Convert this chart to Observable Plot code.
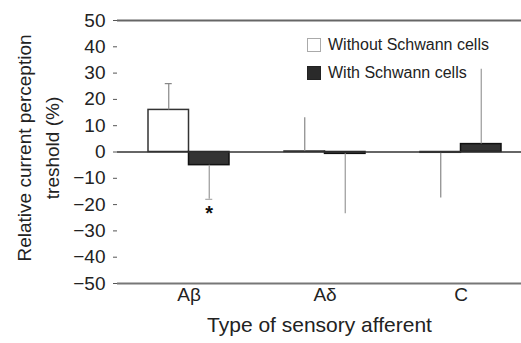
<!DOCTYPE html>
<html>
<head>
<meta charset="utf-8">
<script src="https://cdn.jsdelivr.net/npm/d3@7"></script>
<script src="https://cdn.jsdelivr.net/npm/@observablehq/plot@0.6"></script>
<style>
  html, body { margin: 0; padding: 0; background: #fff; }
  #wrap { position: relative; width: 521px; height: 343px; font-family: "Liberation Sans", Arial, Helvetica, sans-serif; }
  #legend { position: absolute; left: 307px; top: 31px; font-size: 16px; color: #222; }
  .item { display: flex; align-items: center; height: 28px; }
  .sw { width: 14px; height: 14px; margin-right: 7px; box-sizing: border-box; }
</style>
</head>
<body>
<div id="wrap"><div id="legend"></div></div>
<script>
// ---- data ----
const types = ["Aβ", "Aδ", "C"];
const series = ["Without Schwann cells", "With Schwann cells"];
const withoutMean = [16, 0.2, -0.3];
const withoutErrEnd = [26, 13, -17.5];
const withMean = [-5, -0.7, 3];
const withErrEnd = [-18, -23.5, 31.5];
const withoutCap = [true, false, false];
const withCap = [true, false, false];
const significant = [true, false, false];
const yTicks = [-50, -40, -30, -20, -10, 0, 10, 20, 30, 40, 50];
const xTitle = "Type of sensory afferent";
const yTitle = "Relative current perception\ntreshold (%)";

const rowsWithout = types.map((t, i) => ({type: t, value: withoutMean[i], err: withoutErrEnd[i], cap: withoutCap[i]}));
const rowsWith = types.map((t, i) => ({type: t, value: withMean[i], err: withErrEnd[i], cap: withCap[i], sig: significant[i]}));

const font = '"Liberation Sans", Arial, Helvetica, sans-serif';
const base = {
  width: 521, height: 343,
  marginLeft: 117, marginRight: 0, marginTop: 20, marginBottom: 60,
  x: {domain: types, paddingInner: 0.407, paddingOuter: 0.183, align: 0.61},
  y: {domain: [-50, 50]},
  style: {fontFamily: font, background: "transparent", color: "#222"}
};
// measure bandwidth from the scale
const probe = Plot.plot({...base, marks: [Plot.barY(rowsWithout, {x: "type", y: "value"})]});
const bw = probe.scale("x").bandwidth;
const half = bw / 2;
const capInset = (half - 7) / 2;

const chart = Plot.plot({
  ...base,
  marks: [
    Plot.ruleY([50], {stroke: "#666", strokeWidth: 2}),
    Plot.ruleY([-50], {stroke: "#777", strokeWidth: 2}),
    // bars
    Plot.barY(rowsWithout, {x: "type", y: "value", fill: "white", stroke: "#333", strokeWidth: 1.5, insetRight: half}),
    Plot.barY(rowsWith, {x: "type", y: "value", fill: "#333", stroke: "#111", strokeWidth: 1.5, insetLeft: half}),
    // error bars
    Plot.ruleX(rowsWithout, {x: "type", y1: "value", y2: "err", dx: -half / 2, stroke: "#888", strokeWidth: 1.2}),
    Plot.ruleX(rowsWith, {x: "type", y1: "value", y2: "err", dx: half / 2, stroke: "#999", strokeWidth: 1.2}),
    Plot.tickY(rowsWithout.filter(d => d.cap), {x: "type", y: "err", dx: -half / 2, insetLeft: capInset + half / 2, insetRight: capInset + half / 2, stroke: "#888", strokeWidth: 1.2}),
    Plot.tickY(rowsWith.filter(d => d.cap), {x: "type", y: "err", dx: half / 2, insetLeft: capInset + half / 2, insetRight: capInset + half / 2, stroke: "#aaa", strokeWidth: 1.2}),
    Plot.text(rowsWith.filter(d => d.sig), {x: "type", y: "err", text: () => "*", dx: half / 2, dy: 14, fontSize: 20, fontWeight: "bold", fill: "#111"}),
    Plot.ruleY([0], {stroke: "#333", strokeWidth: 1.6}),
    // axes
    Plot.axisY({ticks: yTicks, tickSize: 4, tickPadding: 8, fontSize: 19, label: null, stroke: "#555", line: true, tickFormat: d => d < 0 ? "−" + Math.abs(d) : String(d)}),
    Plot.axisX({tickSize: 0, tickPadding: 4, fontSize: 19, label: null}),
    Plot.text([xTitle], {frameAnchor: "bottom", dy: 42, fontSize: 21, lineAnchor: "middle", fill: "#222"}),
    Plot.text([yTitle], {frameAnchor: "left", dx: -81, dy: -4, rotate: -90, textAnchor: "middle", fontSize: 19, lineHeight: 1.47, lineAnchor: "middle", fill: "#222"})
  ]
});
const wrap = document.getElementById("wrap");
wrap.insertBefore(chart, wrap.firstChild);

const legend = document.getElementById("legend");
const swatches = [{fill: "#fff", border: "#aaa"}, {fill: "#2a2a2a", border: "#222"}];
series.forEach((s, i) => {
  const it = document.createElement("div");
  it.className = "item";
  const sw = document.createElement("span");
  sw.className = "sw";
  sw.style.background = swatches[i].fill;
  sw.style.border = "1.5px solid " + swatches[i].border;
  it.appendChild(sw);
  it.appendChild(document.createTextNode(s));
  legend.appendChild(it);
});
</script>
</body>
</html>
